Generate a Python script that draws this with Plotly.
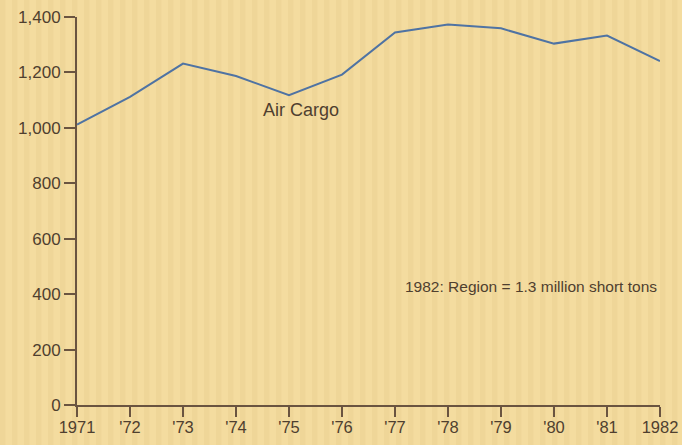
import plotly.graph_objects as go

# Air cargo volume, thousand short tons
years = [1971, 1972, 1973, 1974, 1975, 1976, 1977, 1978, 1979, 1980, 1981, 1982]
air_cargo = [1012, 1112, 1232, 1187, 1118, 1192, 1344, 1373, 1359, 1304, 1333, 1241]

x_tick_vals = years
x_tick_text = ["1971", "'72", "'73", "'74", "'75", "'76", "'77", "'78", "'79", "'80", "'81", "1982"]
y_tick_vals = [0, 200, 400, 600, 800, 1000, 1200, 1400]
y_tick_text = ["0", "200", "400", "600", "800", "1,000", "1,200", "1,400"]

paper = "#f4dc9f"
ink = "#4f3f2f"
axis_col = "#6a5440"
line_col = "#4f73a3"

fig = go.Figure()
fig.add_trace(go.Scatter(
    x=years, y=air_cargo, mode="lines",
    line=dict(color=line_col, width=2),
    hoverinfo="skip", showlegend=False,
))

# faint vertical paper grain across the whole page
shapes = []
period = 12.0 / 583  # in plot-area fractions
x0 = -77.0 / 583
while x0 < 1.1:
    shapes.append(dict(type="rect", xref="paper", yref="paper",
                       x0=x0, x1=x0 + period * 0.45, y0=-0.2, y1=1.1,
                       fillcolor="rgba(200,165,95,0.10)", line=dict(width=0),
                       layer="below"))
    x0 += period

fig.update_layout(
    width=682, height=445,
    margin=dict(l=77, r=22, t=17, b=40, autoexpand=False),
    paper_bgcolor=paper, plot_bgcolor="rgba(0,0,0,0)",
    font=dict(family="Liberation Sans, Arial, sans-serif", size=17, color=ink),
    xaxis=dict(
        range=[1971, 1982], tickvals=x_tick_vals, ticktext=x_tick_text,
        showgrid=False, zeroline=False, showline=True, linecolor=axis_col, linewidth=2,
        ticks="outside", ticklen=10, tickwidth=2, tickcolor=axis_col,
        tickfont=dict(size=16.5, color=ink), automargin=False,
        ticklabelstandoff=-4,
    ),
    yaxis=dict(
        range=[0, 1400], tickvals=y_tick_vals, ticktext=y_tick_text,
        showgrid=False, zeroline=False, showline=True, linecolor=axis_col, linewidth=2,
        ticks="outside", ticklen=11, tickwidth=2, tickcolor=axis_col,
        tickfont=dict(size=17, color=ink), automargin=False,
    ),
    annotations=[
        dict(x=1975.23, y=1064, xref="x", yref="y", text="Air Cargo",
             showarrow=False, font=dict(size=18, color=ink)),
        dict(x=1979.57, y=426, xref="x", yref="y",
             text="1982: Region = 1.3 million short tons",
             showarrow=False, font=dict(size=15.5, color=ink)),
    ],
    shapes=shapes,
)

fig.write_html("out.html")
